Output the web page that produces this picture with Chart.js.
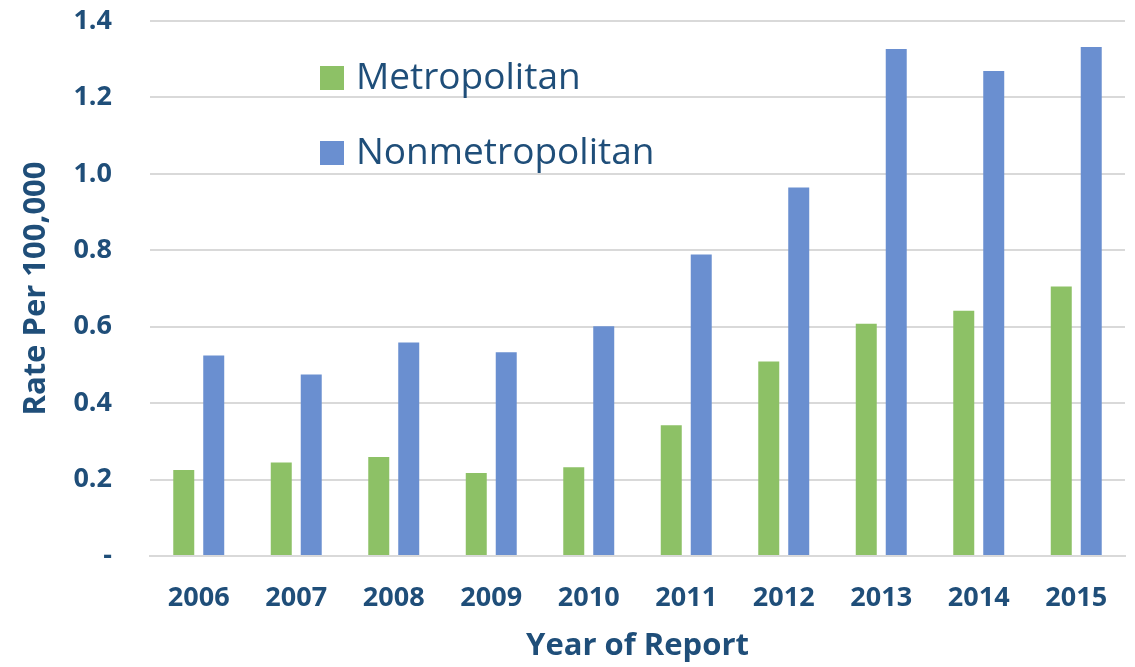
<!DOCTYPE html>
<html>
<head>
<meta charset="utf-8">
<script src="https://cdn.jsdelivr.net/npm/chart.js@4.4.0/dist/chart.umd.min.js"></script>
<style>
  html, body { margin: 0; padding: 0; background: #fff; }
  #wrap { width: 1135px; height: 667px; position: relative; }
</style>
</head>
<body>
<div id="wrap"><canvas id="chart"></canvas></div>
<script>
// --- data ---
const years          = ['2006','2007','2008','2009','2010','2011','2012','2013','2014','2015'];
const metropolitan   = [0.225, 0.245, 0.259, 0.217, 0.232, 0.342, 0.509, 0.608, 0.642, 0.705];
const nonmetro       = [0.525, 0.475, 0.559, 0.533, 0.601, 0.789, 0.964, 1.327, 1.269, 1.332];
const yTicks         = [0, 0.2, 0.4, 0.6, 0.8, 1.0, 1.2, 1.4];

const TEXT  = '#1f4e79';
const GREEN = '#8dc166';
const BLUE  = '#6a8fd0';
const FONT  = "'Open Sans', 'Noto Sans', sans-serif";

// legend drawn inside the plot area, top-left (like the Excel original)
const insideLegend = {
  id: 'insideLegend',
  afterDraw(chart) {
    const ctx = chart.ctx;
    ctx.save();
    ctx.font = `37px ${FONT}`;
    ctx.textBaseline = 'alphabetic';
    chart.data.datasets.forEach((ds, i) => {
      const y = 66 + i * 75;
      ctx.fillStyle = ds.backgroundColor;
      ctx.fillRect(320, y, 24, 24);
      ctx.fillStyle = TEXT;
      ctx.fillText(ds.label, 356, y + 23);
    });
    ctx.restore();
  }
};

new Chart(document.getElementById('chart'), {
  type: 'bar',
  data: {
    labels: years,
    datasets: [
      { label: 'Metropolitan',    data: metropolitan, backgroundColor: GREEN },
      { label: 'Nonmetropolitan', data: nonmetro,     backgroundColor: BLUE  },
    ],
  },
  options: {
    responsive: true,
    maintainAspectRatio: false,
    animation: false,
    categoryPercentage: 0.615,
    barPercentage: 0.7,
    layout: { padding: { left: 0, right: 10, top: 21, bottom: 0 } },
    plugins: {
      legend: { display: false },
      tooltip: { enabled: false },
    },
    scales: {
      x: {
        grid: { display: false },
        border: { color: '#d9d9d9', width: 2 },
        ticks: { color: TEXT, font: { family: FONT, size: 27, weight: 'bold' }, padding: 18 },
        title: {
          display: true, text: 'Year of Report', color: TEXT,
          font: { family: FONT, size: 31, weight: 'bold' }, padding: { top: 0, bottom: 2 },
        },
        afterFit: s => { s.height = 111; s.paddingLeft = 0; s.paddingRight = 0; },
      },
      y: {
        min: 0, max: 1.4,
        afterBuildTicks: s => { s.ticks = yTicks.map(v => ({ value: v })); },
        grid: { color: '#d9d9d9', lineWidth: 2, drawTicks: false },
        border: { display: false },
        ticks: {
          color: TEXT, font: { family: FONT, size: 27, weight: 'bold' }, padding: 38,
          callback: v => v === 0 ? '-' : v.toFixed(1),
        },
        title: {
          display: true, text: 'Rate Per 100,000', color: TEXT,
          font: { family: FONT, size: 31, weight: 'bold' }, padding: { top: 18, bottom: 0 },
        },
        // fixed width; drop the label overflow padding so the plot top sits at 21px
        afterFit: s => { s.width = 150; s.paddingTop = 0; s.paddingBottom = 0; },
      },
    },
  },
  plugins: [insideLegend],
});
</script>
</body>
</html>
